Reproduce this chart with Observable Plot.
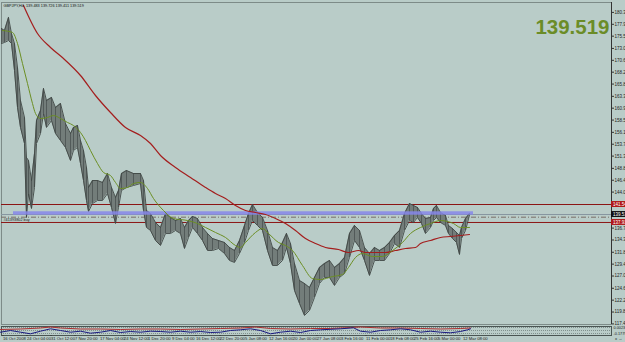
<!DOCTYPE html>
<html><head><meta charset="utf-8">
<script src="https://cdn.jsdelivr.net/npm/d3@7"></script>
<script src="https://cdn.jsdelivr.net/npm/@observablehq/plot@0.6"></script>
<style>
html,body{margin:0;padding:0;background:#b9ccc8;}
#chart{position:relative;width:625px;height:342px;overflow:hidden;background:#b9ccc8;}
#chart svg{position:absolute;left:0;display:block;}
</style></head><body><div id="chart"></div>
<script>
// ---- data ----
const symbolHeader = "GBPJPY,H4  139.483 139.726 139.411 139.519";
const lastClose = 139.519;
const barIndex = [1,4,8,11,14,17,20,24,26,28,31,34,36,40,43,46,51,55,60,65,70,73,77,80,83,86,88,92,97,102,107,111,115,118,121,126,133,140,143,146,150,155,160,165,170,175,180,184,188,192,197,202,207,212,218,224,229,234,239,244,248,252,257,262,267,272,277,282,286,290,294,299,304,309,314,319,324,329,334,339,344,349,354,359,364,369,374,379,384,389,394,399,404,409,413,417,421,425,430,433,436,440,445,448,452,456,459,461,465,469];
const barHigh = [177.09,176.69,179.32,176.08,174.06,169.22,162.55,159.12,151.04,150.43,146.39,151.84,158.51,160.53,164.97,162.55,163.16,161.14,161.94,157.90,155.88,157.10,157.50,154.47,152.45,149.02,144.98,146.39,146.39,145.99,147.80,144.98,142.96,144.37,147.80,148.41,147.80,147.80,146.39,140.33,139.72,137.91,136.90,139.72,138.92,138.31,138.71,136.90,138.31,139.12,138.71,136.90,135.68,134.67,134.27,133.87,132.86,132.25,134.27,137.30,139.72,141.54,139.93,138.92,136.29,132.86,132.25,133.87,135.68,133.66,129.62,126.19,125.58,124.78,126.80,128.82,129.62,130.23,128.82,129.62,130.84,135.68,137.30,136.29,132.86,131.64,132.86,132.25,132.86,133.87,135.28,136.29,139.72,141.74,141.34,140.94,139.72,138.71,138.92,140.73,141.34,139.93,139.32,137.30,136.69,135.89,135.28,136.90,138.71,139.73];
const barLow = [174.06,174.27,174.67,174.06,168.61,161.14,157.10,153.86,138.92,143.76,140.73,144.98,153.86,155.88,159.92,157.10,158.51,155.88,154.47,153.06,150.43,152.45,153.06,149.82,146.39,142.35,140.13,141.74,142.35,142.35,143.76,140.94,137.70,140.94,144.37,144.98,145.38,145.78,140.33,136.90,136.29,134.27,133.26,135.68,135.68,136.29,135.68,132.65,134.88,136.90,135.68,134.27,132.25,132.25,132.65,131.64,130.23,129.83,131.64,133.87,136.29,138.31,137.30,136.29,132.25,129.22,129.22,130.23,132.86,129.62,124.17,121.54,119.12,120.13,122.76,125.58,126.80,126.80,125.18,126.80,127.60,130.84,134.27,132.86,130.23,127.20,130.23,130.23,130.23,131.64,133.66,132.86,136.29,138.31,137.91,138.92,137.70,135.68,136.90,138.31,138.92,137.91,137.30,135.68,134.67,133.87,131.44,134.67,136.29,139.41];

const fastMaIndex = [2,12,17,22,27,32,35,40,47,53,60,67,73,80,85,90,97,103,110,115,120,127,133,140,147,153,163,173,187,197,205,215,225,235,240,245,255,262,268,278,285,292,302,312,320,332,342,348,355,362,372,382,392,402,410,420,430,440,447,453,460,469];
const fastMa = [176.69,176.29,174.06,170.02,165.98,161.94,159.92,158.91,159.12,159.52,158.91,158.11,157.50,156.09,154.47,152.45,149.82,148.01,147.40,145.99,144.77,144.98,145.78,145.99,144.77,142.75,140.33,138.71,138.31,137.70,136.90,135.89,134.88,133.26,132.86,133.87,135.89,136.69,135.68,133.87,133.26,132.25,129.22,126.59,126.39,126.99,127.40,128.82,130.84,131.64,131.04,131.04,132.25,133.87,135.68,136.90,137.70,138.31,138.11,137.70,136.90,136.90];

const slowMaIndex = [23,37,50,63,80,95,110,125,140,150,160,175,190,205,215,225,235,245,255,265,275,285,295,305,315,325,338,348,358,365,375,385,395,405,415,420,430,440,450,460,469];
const slowMa = [181.74,176.08,173.26,171.03,167.60,163.56,160.13,157.10,155.48,153.86,151.44,149.02,147.00,144.98,143.76,142.75,141.34,140.33,139.93,139.52,138.71,137.70,136.29,134.67,133.66,132.86,132.45,131.85,132.25,131.85,131.85,131.85,132.25,132.65,132.86,133.66,134.27,134.88,135.08,135.28,135.48];

const resistanceLevel = 141.54;
const supportLevel = 137.91;
const orderLevel = 138.98;
const orderLabel = "#41393802 buy";
const zoneLow = 139.38, zoneHigh = 140.07, zoneStart = 13, zoneEnd = 473;

const priceTicks = [180.345,177.945,175.545,173.070,170.670,168.270,165.870,163.395,160.995,158.595,156.120,153.720,151.320,148.845,146.445,144.045,136.770,134.370,131.895,129.495,127.095,124.620,122.220,119.820,117.420];

const timeTickIndex = [2,26,50,74,99,123,147,171,195,219,244,268,292,316,340,365,389,413,437,462];
const timeTickLabels = ["16 Oct 2008","24 Oct 04:00","31 Oct 12:00","7 Nov 20:00","17 Nov 04:00","24 Nov 12:00","1 Dec 20:00","9 Dec 04:00","16 Dec 12:00","22 Dec 20:00","5 Jan 08:00","12 Jan 16:00","20 Jan 00:00","27 Jan 08:00","3 Feb 16:00","11 Feb 00:00","18 Feb 08:00","25 Feb 16:00","5 Mar 00:00","12 Mar 08:00"];

const oscIndex = [0,10,20,30,40,50,60,70,80,90,100,110,120,130,140,150,160,170,180,190,200,210,220,230,240,250,260,270,280,290,300,310,320,340,353,360,370,380,390,400,410,420,430,440,450,460,467,470];
const oscMain = [3.3,5,3.3,1.7,4.3,6.7,5,3.3,4.3,2.3,3.3,5,3,4,3.3,4.3,4,3.3,4.3,3.3,4,3,3.3,5,5.7,6.7,5,1.7,3.3,4.3,3,5,5.7,6.7,7.7,4.3,3.3,5,5.7,6.7,5.7,3.3,4.3,3.3,2.7,4,5.7,6.7];
const oscSignalIndex = [0,20,40,50,60,80,100,120,140,160,180,200,220,240,255,270,290,310,330,350,360,380,400,420,440,460,470];
const oscSignal = [6,6.5,7.5,8.5,7.5,6.5,6.5,6,6.5,6.5,6,6.5,7,7.5,8.5,7,6.5,7,7,8,8.5,7.5,7.5,7,6.5,7,7.5];
const oscGrid = [8,5,2];
const oscLabels = ["0.0023","-0.1779"];

// ---- build tables ----
const bars = barIndex.map((x,i)=>({x, high:barHigh[i], low:barLow[i]}));
const fast = fastMaIndex.map((x,i)=>({x, y:fastMa[i]}));
const slow = slowMaIndex.map((x,i)=>({x, y:slowMa[i]}));
const osc = oscIndex.map((x,i)=>({x, y:oscMain[i]}));
const sig = oscSignalIndex.map((x,i)=>({x, y:oscSignal[i]}));

const BG = "#b9ccc8";
const FONT = "Liberation Sans, Arial, sans-serif";
const xDomain = [1, 611];
const W = 625;

const main = Plot.plot({
  width: W, height: 325,
  marginLeft: 1, marginRight: 14, marginTop: 2, marginBottom: 1,
  style: {background: BG, fontFamily: FONT, color: "#000"},
  x: {domain: xDomain, axis: null},
  y: {domain: [117.302, 182.346], axis: null},
  marks: [
    Plot.frame({stroke: "#7d8b88", strokeWidth: 1}),
    // bid line
    Plot.ruleY([lastClose], {stroke: "#8796a0", strokeWidth: 1}),
    // order dash-dot line
    Plot.ruleY([orderLevel], {stroke: "#7a6e66", strokeWidth: 1, strokeDasharray: "5,2,1,2"}),
    Plot.text([orderLabel], {frameAnchor: "left", y: () => orderLevel, dx: 2, dy: 3, fontSize: 3.8, textAnchor: "start", fill: "#1a1a1a"}),
    // horizontal levels
    Plot.ruleY([resistanceLevel, supportLevel], {stroke: "#8b1414", strokeWidth: 1}),
    // price bars
    Plot.areaY(bars, {x: "x", y1: "low", y2: "high", fill: "#737d7a", curve: "linear"}),
    Plot.ruleX(bars, {x: "x", y1: "low", y2: "high", stroke: "#4a5250", strokeWidth: 0.8}),
    Plot.line(bars, {x: "x", y: "high", stroke: "#3f4644", strokeWidth: 0.9}),
    Plot.line(bars, {x: "x", y: "low", stroke: "#3f4644", strokeWidth: 0.9}),
    // zone rectangle (drawn over the bars)
    Plot.rect([{x1: zoneStart, x2: zoneEnd, y1: zoneLow, y2: zoneHigh}], {x1:"x1", x2:"x2", y1:"y1", y2:"y2", fill: "#8686ea", fillOpacity: 0.85}),
    // moving averages
    Plot.line(slow, {x: "x", y: "y", stroke: "#a41e1e", strokeWidth: 1.2, curve: "monotone-x"}),
    Plot.line(fast, {x: "x", y: "y", stroke: "#6c8f24", strokeWidth: 1, curve: "monotone-x"}),
    // right axis
    Plot.ruleX([xDomain[1]], {stroke: "#333", strokeWidth: 1}),
    Plot.axisY(priceTicks, {anchor: "right", tickSize: 2, tickPadding: 1, fontSize: 4.5, tickFormat: d => d.toFixed(3), stroke: "#333", fill: "#222"}),
    // price tag boxes
    Plot.rect([resistanceLevel, supportLevel], {x1: () => xDomain[1], x2: () => xDomain[1] + 14, y1: d => d - 0.6, y2: d => d + 0.6, fill: "#b01818"}),
    Plot.rect([lastClose], {x1: () => xDomain[1], x2: () => xDomain[1] + 14, y1: d => d - 0.6, y2: d => d + 0.6, fill: "#111"}),
    Plot.text([resistanceLevel, supportLevel, lastClose], {x: () => xDomain[1], y: d => d, dx: 1.5, text: d => d.toFixed(3), textAnchor: "start", fontSize: 4.5, fill: "#fff"}),
    // header & big price
    Plot.text([symbolHeader], {frameAnchor: "top-left", dx: 2, dy: 2, lineAnchor: "top", textAnchor: "start", fontSize: 3.8, fill: "#111"}),
    Plot.text([lastClose], {frameAnchor: "top-right", text: d => d.toFixed(3), dx: -2, dy: 17, lineAnchor: "top", textAnchor: "end", fontSize: 20.5, fontWeight: "bold", fill: "#6b8c27"})
  ]
});

const sub = Plot.plot({
  width: W, height: 17,
  marginLeft: 1, marginRight: 14, marginTop: 1, marginBottom: 7,
  style: {background: BG, fontFamily: FONT, color: "#000", overflow: "visible"},
  x: {domain: xDomain, axis: null},
  y: {domain: [0, 9], axis: null},
  marks: [
    Plot.ruleY(oscGrid, {stroke: "#7f8f8c", strokeDasharray: "1,1", strokeWidth: 1}),
    Plot.frame({stroke: "#4a5553", strokeWidth: 1}),
    Plot.line(sig, {x: "x", y: "y", stroke: "#b03030", strokeWidth: 1}),
    Plot.line(osc, {x: "x", y: "y", stroke: "#1a1a80", strokeWidth: 1}),
    Plot.text(oscLabels, {x: () => xDomain[1], y: (d, i) => i === 0 ? 7.5 : 2, dx: 2, text: d => d, textAnchor: "start", fontSize: 3.8, fill: "#222"}),
    Plot.axisX(timeTickIndex, {anchor: "bottom", tickSize: 1, tickPadding: 0.5, fontSize: 4.2, textAnchor: "start", dx: 0.5, lineAnchor: "top", tickFormat: (d, i) => timeTickLabels[i], stroke: "#333", fill: "#222"})
  ]
});

const c = document.getElementById("chart");
main.style.top = "0px";
sub.style.top = "325px";
c.appendChild(main);
c.appendChild(sub);
</script>
</body></html>
